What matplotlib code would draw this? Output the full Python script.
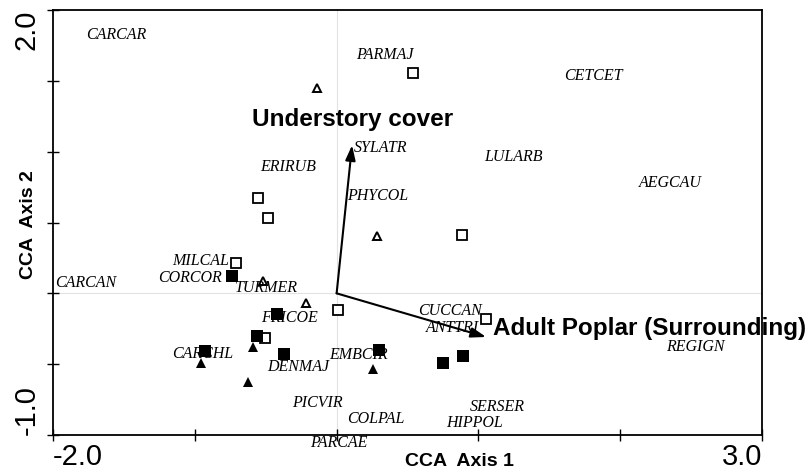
import matplotlib
matplotlib.use("Agg")
import matplotlib.pyplot as plt

# site scores, grouped by symbol
openSqX = [0.539, -0.554, -0.484, -0.709, 0.885, 0.010, 1.053, -0.505]
openSqY = [1.555, 0.673, 0.532, 0.214, 0.412, -0.118, -0.181, -0.316]

openTriX = [-0.138, 0.285, -0.519, -0.216]
openTriY = [1.449, 0.404, 0.087, -0.068]

fillSqX = [-0.738, -0.420, -0.561, -0.928, -0.371, 0.299, 0.750, 0.891]
fillSqY = [0.122, -0.146, -0.301, -0.407, -0.428, -0.400, -0.492, -0.443]

fillTriX = [-0.956, -0.590, -0.625, 0.257]
fillTriY = [-0.492, -0.379, -0.626, -0.534]

# species scores
species = ["CARCAR", "PARMAJ", "CETCET", "AEGCAU", "SYLATR", "LULARB", "ERIRUB",
           "PHYCOL", "MILCAL", "CORCOR", "CARCAN", "TURMER", "FRICOE", "CARCHL",
           "DENMAJ", "EMBCIR", "CUCCAN", "ANTTRI", "PICVIR", "COLPAL", "SERSER",
           "HIPPOL", "PARCAE", "REGIGN"]
speciesX = [-1.556, 0.341, 1.809, 2.352, 0.313, 1.244, -0.343,
            0.292, -0.956, -1.034, -1.767, -0.498, -0.329, -0.942,
            -0.272, 0.157, 0.800, 0.814, -0.138, 0.278, 1.131,
            0.976, 0.017, 2.527]
speciesY = [1.823, 1.682, 1.534, 0.779, 1.026, 0.962, 0.892,
            0.687, 0.228, 0.108, 0.073, 0.037, -0.174, -0.428,
            -0.520, -0.435, -0.125, -0.245, -0.774, -0.887, -0.803,
            -0.915, -1.057, -0.379]

# environmental vectors
envNames = ["Understory cover", "Adult Poplar (Surrounding)"]
envX = [0.109, 1.054]
envY = [1.046, -0.308]

xTicks = [-2, -1, 0, 1, 2, 3]
xTickLabels = ["-2.0", "", "", "", "", "3.0"]
yTicks = [-1, -0.5, 0, 0.5, 1, 1.5, 2]
yTickLabels = ["-1.0", "", "", "", "", "", "2.0"]

sans = "Liberation Sans"
serif = "Liberation Serif"

fig = plt.figure(figsize=(8.06, 4.75), dpi=100)
ax = fig.add_axes([0.0658, 0.0842, 0.8796, 0.8947])

ax.axhline(0, color="#e2e2e2", lw=0.8, zorder=0)
ax.axvline(0, color="#e2e2e2", lw=0.8, zorder=0)

ax.plot(openSqX, openSqY, "s", ms=6.5, mfc="white", mec="black", mew=1.3, ls="none")
ax.plot(openTriX, openTriY, "^", ms=6, mfc="white", mec="black", mew=1.4, ls="none")
ax.plot(fillSqX, fillSqY, "s", ms=8, mfc="black", mec="black", mew=0, ls="none")
ax.plot(fillTriX, fillTriY, "^", ms=7, mfc="black", mec="black", mew=0, ls="none")

for name, x, y in zip(species, speciesX, speciesY):
    ax.text(x, y, name, family=serif, style="italic", fontsize=11.5,
            ha="center", va="center", clip_on=False)

# arrows from the origin
for x, y in zip(envX, envY):
    ax.annotate("", xy=(x, y), xytext=(0, 0),
                arrowprops=dict(arrowstyle="-|>,head_length=0.9,head_width=0.3",
                                color="black", lw=1.5, shrinkA=0, shrinkB=0))
ax.text(envX[0], envY[0] + 0.1, envNames[0], family=sans, fontweight="bold",
        fontsize=17.5, ha="center", va="bottom")
ax.text(envX[1] + 0.05, envY[1] + 0.06, envNames[1], family=sans, fontweight="bold",
        fontsize=17.5, ha="left", va="center", clip_on=False)

ax.set_xlim(-2, 3)
ax.set_ylim(-1, 2)

ax.set_xticks(xTicks)
ax.set_xticklabels(xTickLabels, family=sans, fontsize=21)
ax.set_yticks(yTicks)
ax.set_yticklabels(yTickLabels, family=sans, fontsize=21, rotation=90)
ax.tick_params(direction="inout", length=8, width=1)
ax.tick_params(axis="x", pad=2)
ax.tick_params(axis="y", pad=5)
xl = ax.get_xticklabels()
xl[0].set_ha("left")
xl[-1].set_ha("right")
yl = ax.get_yticklabels()
for lab in yl:
    lab.set_va("center")
yl[0].set_va("bottom")
yl[-1].set_va("top")

for sp in ax.spines.values():
    sp.set_linewidth(1.3)

ax.set_xlabel("CCA  Axis 1", family=sans, fontweight="bold", fontsize=14, va="center")
ax.xaxis.set_label_coords(0.573, -0.0635)
ax.set_ylabel("CCA  Axis 2", family=sans, fontweight="bold", fontsize=14, va="center")
ax.yaxis.set_label_coords(-0.035, 0.494)

fig.savefig("out.png", dpi=100)
